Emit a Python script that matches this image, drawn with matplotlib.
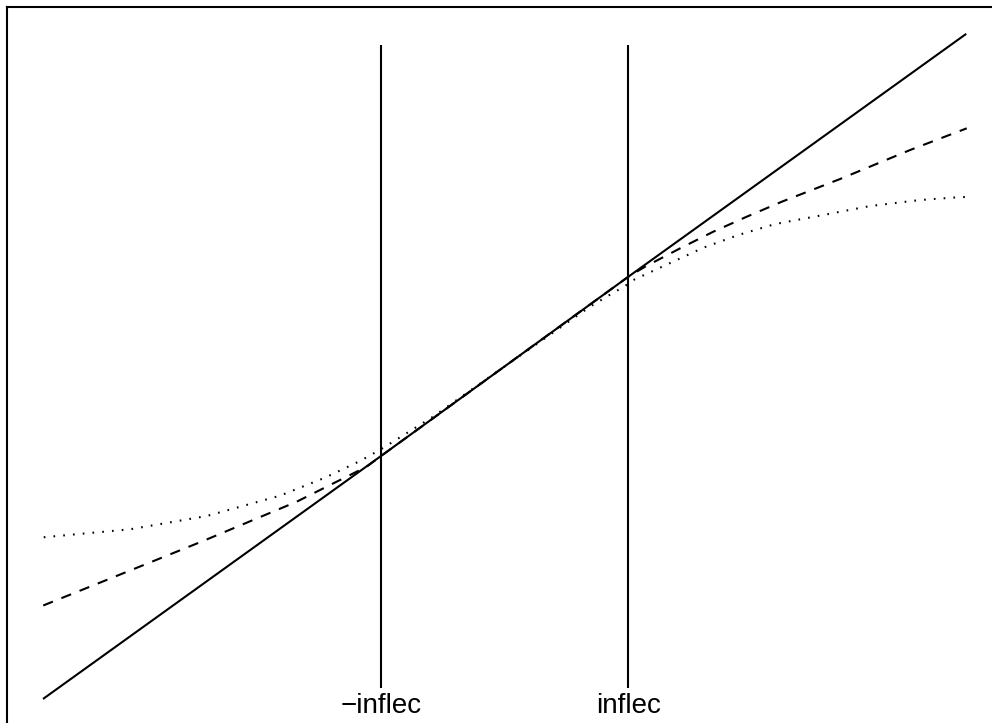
import matplotlib
matplotlib.use("Agg")
import matplotlib.pyplot as plt

plt.rcParams['font.family'] = ['Liberation Sans', 'DejaVu Sans']

# ---- data (inflection points at x = -1, 1) ----
inflec = 1.0
tick_positions = [-inflec, inflec]
tick_labels = ["\u2212inflec", "inflec"]

solid_x = [-3.733, -1.0, 1.0, 3.733]
solid_y = [-3.71, -1.0, 1.0, 3.71]

dashed_x = [-3.731, -3.029, -2.439, -1.681, -1.277, -1.115, -1.0, 0.0,
            1.0, 1.135, 1.419, 1.688, 1.958, 2.241, 2.712, 3.279, 3.737]
dashed_y = [-2.667, -2.277, -1.948, -1.509, -1.230, -1.118, -1.0, 0.0,
            1.0, 1.112, 1.317, 1.503, 1.670, 1.837, 2.090, 2.414, 2.656]

dotted_x = [-3.727, -3.029, -2.409, -1.816, -1.452, -1.169, -1.034, -0.967,
            -0.579, 0.0, 0.691, 0.839, 0.974, 1.041, 1.176, 1.392, 1.607,
            1.890, 2.187, 2.577, 2.955, 3.359, 3.656, 3.733]
dotted_y = [-1.906, -1.817, -1.669, -1.442, -1.241, -1.055, -0.951, -0.896,
            -0.561, 0.0, 0.666, 0.789, 0.897, 0.964, 1.050, 1.187, 1.324,
            1.466, 1.588, 1.689, 1.789, 1.856, 1.886, 1.890]

vline_ymin, vline_ymax = -3.587, 3.585
label_y = -3.866

# ---- figure ----
W, H = 992, 723
fig = plt.figure(figsize=(W / 100, H / 100), dpi=100)
ax = fig.add_axes([7 / W, 1 - 730 / H, (1000 - 7) / W, (730 - 7.3) / H])
ax.set_xlim(-4.024, 4.006)
ax.set_ylim(-4.056, 4.006)
ax.set_xticks([])
ax.set_yticks([])
for s in ax.spines.values():
    s.set_linewidth(1.5)
    s.set_color('black')

lw = 1.5
ax.plot(solid_x, solid_y, color='black', lw=lw, solid_capstyle='butt')
ax.plot(dashed_x, dashed_y, color='black', lw=lw, dashes=(5.0, 4.4),
        dash_capstyle='butt')
ax.plot(dotted_x, dotted_y, color='black', lw=lw, dashes=(0.8, 3.9),
        dash_capstyle='butt')

for xv in tick_positions:
    ax.plot([xv, xv], [vline_ymin, vline_ymax], color='black', lw=lw,
            solid_capstyle='butt')

for xv, lab in zip(tick_positions, tick_labels):
    ax.text(xv, label_y, lab, ha='center', va='baseline', fontsize=20,
            color='black')

fig.savefig("out.png", dpi=100)
